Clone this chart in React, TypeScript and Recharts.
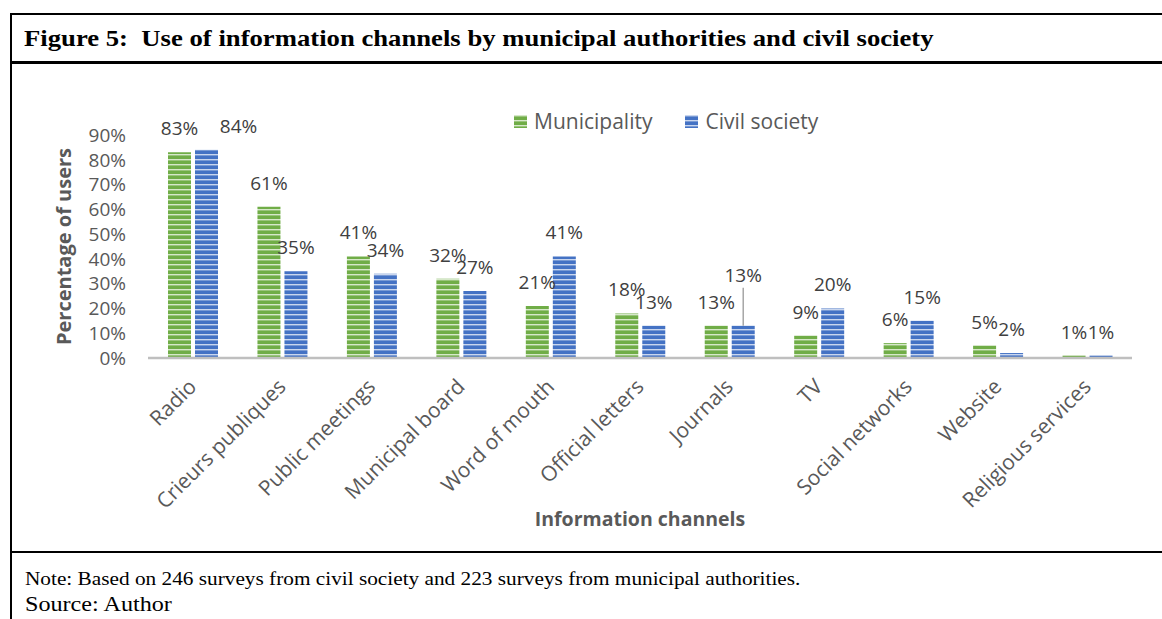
import React from 'react';
import { BarChart, Bar, XAxis, YAxis, Legend, LabelList, Label } from 'recharts';

const channels = [
    'Radio',
    'Crieurs publiques',
    'Public meetings',
    'Municipal board',
    'Word of mouth',
    'Official letters',
    'Journals',
    'TV',
    'Social networks',
    'Website',
    'Religious services',
];
const municipality = [83, 61, 41, 32, 21, 18, 13, 9, 6, 5, 1];
const civilSociety = [84, 35, 34, 27, 41, 13, 13, 20, 15, 2, 1];
const yTicks = [0, 10, 20, 30, 40, 50, 60, 70, 80, 90];

const chartData = channels.map((name, i) => ({
    name,
    municipality: municipality[i],
    civil: civilSociety[i],
}));

const FONT = '"Open Sans", sans-serif';
const SERIF = '"Liberation Serif", "Times New Roman", serif';

// label tweaks the original author made by hand in Excel
const labelNudges: Record<string, { dx?: number; dy?: number; leader?: boolean }> = {
    'civil|Radio': { dx: 32 },
    'civil|Journals': { dy: -27, leader: true },
};

const makeLabel = (series: string) => (props: any) => {
    const { x, y, width, value, index } = props;
    const nudge = labelNudges[`${series}|${channels[index]}`] || {};
    const cx = x + width / 2 + (nudge.dx || 0);
    const ty = y - 17 + (nudge.dy || 0);
    return (
        <g>
            {nudge.leader && (
                <line x1={cx} y1={ty + 6} x2={cx} y2={y} stroke="#a6a6a6" strokeWidth={1.5} />
            )}
            <text x={cx} y={ty} textAnchor="middle" fill="#404040" fontSize={19} fontFamily={FONT}>
                {`${value}%`}
            </text>
        </g>
    );
};

const ChannelTick = (props: any) => {
    const { x, y, payload } = props;
    const ax = x + 5;
    const ay = y + 30;
    return (
        <text
            x={ax}
            y={ay}
            transform={`rotate(-45, ${ax}, ${ay})`}
            textAnchor="end"
            fill="#595959"
            fontSize={21}
            fontFamily={FONT}
        >
            {payload.value}
        </text>
    );
};

const Swatch = ({ fill }: { fill: string }) => (
    <svg width={13} height={13} style={{ marginRight: 7, verticalAlign: 'middle' }}>
        <rect width={13} height={13} fill={fill} />
    </svg>
);

const LegendContent = () => (
    <div style={{ fontFamily: FONT, fontSize: 21, color: '#595959', whiteSpace: 'nowrap', lineHeight: '21px' }}>
        <span style={{ marginRight: 33 }}>
            <Swatch fill="url(#greenStripes)" />
            <span style={{ verticalAlign: 'middle' }}>Municipality</span>
        </span>
        <span>
            <Swatch fill="url(#blueStripes)" />
            <span style={{ verticalAlign: 'middle' }}>Civil society</span>
        </span>
    </div>
);

const border = '#000';
// the printed figure is a little wider than its type, so the serif text is stretched to match
const serifText = (stretch: number): React.CSSProperties => ({
    position: 'absolute',
    fontFamily: SERIF,
    whiteSpace: 'nowrap',
    transform: `scaleX(${stretch})`,
    transformOrigin: 'left top',
});

const App: React.FC = () => {
    return (
        <div style={{ position: 'absolute', left: 0, top: 0, width: 1162, height: 619, background: '#fff', overflow: 'hidden' }}>
            {/* frame */}
            <div style={{ position: 'absolute', left: 10, top: 13, width: 1200, height: 2, background: border }} />
            <div style={{ position: 'absolute', left: 10, top: 13, width: 2, height: 620, background: border }} />
            <div style={{ position: 'absolute', left: 10, top: 61, width: 1200, height: 3, background: border }} />
            <div style={{ position: 'absolute', left: 10, top: 551, width: 1200, height: 2, background: border }} />

            <div style={{ ...serifText(1.16), left: 24, top: 27, fontWeight: 'bold', fontSize: 23, lineHeight: '23px' }}>
                Figure 5:&nbsp; Use of information channels by municipal authorities and civil society
            </div>

            <div style={{ position: 'absolute', left: 0, top: 64 }}>
                <BarChart
                    width={1162}
                    height={486}
                    data={chartData}
                    margin={{ top: 71, right: 30, bottom: 0, left: 0 }}
                    barSize={23}
                    barGap={4}
                >
                    <defs>
                        <pattern id="greenStripes" patternUnits="userSpaceOnUse" width={8} height={5}>
                            <rect width={8} height={5} fill="#70AD47" />
                            <rect width={8} height={1.4} fill="#d6e8c9" />
                        </pattern>
                        <pattern id="blueStripes" patternUnits="userSpaceOnUse" width={8} height={5}>
                            <rect width={8} height={5} fill="#4472C4" />
                            <rect width={8} height={1.4} fill="#c9d6ee" />
                        </pattern>
                    </defs>
                    <XAxis
                        dataKey="name"
                        interval={0}
                        height={192}
                        tickLine={false}
                        tickSize={0}
                        tickMargin={0}
                        axisLine={{ stroke: '#bfbfbf', strokeWidth: 2.5 }}
                        tick={<ChannelTick />}
                    >
                        <Label
                            content={(p: any) => (
                                <text
                                    x={p.viewBox.x + p.viewBox.width / 2}
                                    y={p.viewBox.y + 168}
                                    textAnchor="middle"
                                    fill="#595959"
                                    fontSize={19.5}
                                    fontWeight="bold"
                                    fontFamily={FONT}
                                >
                                    Information channels
                                </text>
                            )}
                        />
                    </XAxis>
                    <YAxis
                        width={148}
                        domain={[0, 90]}
                        ticks={yTicks}
                        interval={0}
                        tickFormatter={(v: number) => `${v}%`}
                        axisLine={false}
                        tickLine={false}
                        tickSize={0}
                        tickMargin={22}
                        tick={{ fill: '#595959', fontSize: 19, fontFamily: FONT }}
                    >
                        <Label
                            content={(p: any) => {
                                const cy = p.viewBox.y + p.viewBox.height / 2;
                                return (
                                    <text
                                        x={63}
                                        y={cy}
                                        transform={`rotate(-90, 63, ${cy})`}
                                        textAnchor="middle"
                                        dominantBaseline="central"
                                        fill="#595959"
                                        fontSize={20}
                                        fontWeight="bold"
                                        fontFamily={FONT}
                                    >
                                        Percentage of users
                                    </text>
                                );
                            }}
                        />
                    </YAxis>
                    <Legend
                        verticalAlign="middle"
                        align="center"
                        content={<LegendContent />}
                        wrapperStyle={{ top: 45, left: 514, width: 'auto' }}
                    />
                    <Bar dataKey="municipality" name="Municipality" fill="url(#greenStripes)" isAnimationActive={false}>
                        <LabelList dataKey="municipality" content={makeLabel('municipality')} />
                    </Bar>
                    <Bar dataKey="civil" name="Civil society" fill="url(#blueStripes)" isAnimationActive={false}>
                        <LabelList dataKey="civil" content={makeLabel('civil')} />
                    </Bar>
                </BarChart>
            </div>

            <div style={{ ...serifText(1.12), left: 25, top: 569, fontSize: 19, lineHeight: '19px' }}>
                Note: Based on 246 surveys from civil society and 223 surveys from municipal authorities.
            </div>
            <div style={{ ...serifText(1.15), left: 25, top: 594, fontSize: 21, lineHeight: '21px' }}>
                Source: Author
            </div>
        </div>
    );
};

export default App;
